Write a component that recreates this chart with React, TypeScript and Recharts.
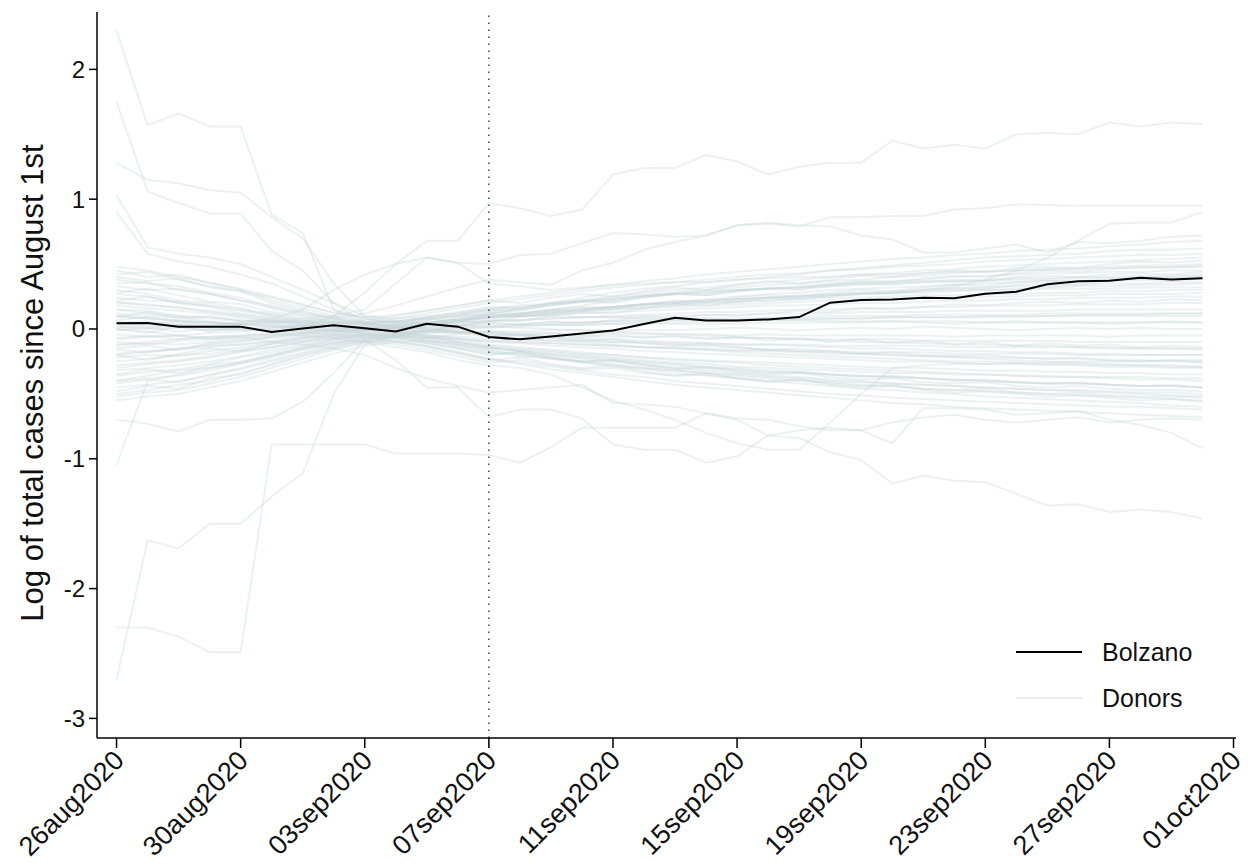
import { LineChart, Line, XAxis, YAxis, ReferenceLine } from "recharts";

const FONT = "'Liberation Sans', Arial, Helvetica, sans-serif";

// one entry per day, 26aug2020 .. 30sep2020
const dates = [
  "26aug2020", "27aug2020", "28aug2020", "29aug2020", "30aug2020", "31aug2020",
  "01sep2020", "02sep2020", "03sep2020", "04sep2020", "05sep2020", "06sep2020",
  "07sep2020", "08sep2020", "09sep2020", "10sep2020", "11sep2020", "12sep2020",
  "13sep2020", "14sep2020", "15sep2020", "16sep2020", "17sep2020", "18sep2020",
  "19sep2020", "20sep2020", "21sep2020", "22sep2020", "23sep2020", "24sep2020",
  "25sep2020", "26sep2020", "27sep2020", "28sep2020", "29sep2020", "30sep2020",
];

const xTickDays = [0, 4, 8, 12, 16, 20, 24, 28, 32, 36];
const xTickLabels = [
  "26aug2020", "30aug2020", "03sep2020", "07sep2020", "11sep2020",
  "15sep2020", "19sep2020", "23sep2020", "27sep2020", "01oct2020",
];
const yTicks = [-3, -2, -1, 0, 1, 2];
const treatmentDay = 12; // 07sep2020

const bolzano = [
  0.044, 0.046, 0.018, 0.018, 0.018, -0.023, 0.003, 0.028, 0.005, -0.02, 0.04, 0.018,
  -0.062, -0.08, -0.057, -0.034, -0.011, 0.038, 0.087, 0.066, 0.066, 0.074, 0.092, 0.203,
  0.223, 0.228, 0.241, 0.236, 0.272, 0.287, 0.344, 0.367, 0.372, 0.395, 0.382, 0.39,
];

// donors that stand out of the cloud
const donorsHigh: number[][] = [
  [2.30, 1.57, 1.66, 1.56, 1.56, 0.88, 0.74, 0.15, 0.04, 0.06, 0.08, 0.07, 0.10, 0.12, 0.14, 0.15, 0.17, 0.19, 0.20, 0.22, 0.23, 0.24, 0.26, 0.27, 0.28, 0.29, 0.30, 0.31, 0.32, 0.33, 0.33, 0.34, 0.35, 0.35, 0.36, 0.36],
  [1.75, 1.06, 0.97, 0.89, 0.89, 0.60, 0.45, 0.20, 0.05, 0.02, 0.01, -0.02, -0.05, -0.07, -0.09, -0.10, -0.12, -0.14, -0.15, -0.16, -0.18, -0.19, -0.20, -0.21, -0.22, -0.23, -0.24, -0.25, -0.25, -0.26, -0.27, -0.27, -0.28, -0.28, -0.29, -0.29],
  [1.28, 1.15, 1.12, 1.07, 1.05, 0.86, 0.70, 0.35, 0.10, 0.08, 0.10, 0.12, 0.16, 0.18, 0.20, 0.22, 0.24, 0.26, 0.28, 0.29, 0.30, 0.31, 0.32, 0.33, 0.34, 0.35, 0.36, 0.36, 0.37, 0.38, 0.38, 0.39, 0.39, 0.40, 0.40, 0.41],
  [1.03, 0.63, 0.58, 0.55, 0.50, 0.40, 0.30, 0.20, 0.10, 0.06, 0.04, 0.03, 0.02, 0.01, 0.00, -0.01, -0.02, -0.03, -0.04, -0.05, -0.06, -0.07, -0.08, -0.09, -0.10, -0.10, -0.11, -0.12, -0.12, -0.13, -0.13, -0.14, -0.14, -0.15, -0.15, -0.16],
  [0.90, 0.58, 0.52, 0.48, 0.42, 0.35, 0.25, 0.15, 0.08, 0.05, 0.05, 0.07, 0.09, 0.10, 0.12, 0.13, 0.15, 0.16, 0.17, 0.18, 0.19, 0.20, 0.21, 0.22, 0.22, 0.23, 0.24, 0.24, 0.25, 0.25, 0.26, 0.26, 0.27, 0.27, 0.27, 0.28],
  [0.10, 0.08, 0.06, 0.05, 0.03, 0.02, 0.01, 0.10, 0.28, 0.50, 0.68, 0.68, 0.97, 0.93, 0.87, 0.92, 1.19, 1.24, 1.24, 1.34, 1.29, 1.19, 1.25, 1.28, 1.28, 1.45, 1.39, 1.42, 1.39, 1.50, 1.51, 1.50, 1.59, 1.56, 1.59, 1.58],
  [0.05, 0.04, 0.06, 0.03, 0.05, 0.08, 0.15, 0.30, 0.42, 0.50, 0.55, 0.51, 0.50, 0.57, 0.58, 0.66, 0.74, 0.73, 0.71, 0.72, 0.80, 0.81, 0.79, 0.86, 0.86, 0.87, 0.87, 0.92, 0.93, 0.96, 0.955, 0.95, 0.95, 0.95, 0.95, 0.95],
  [0.02, 0.01, 0.03, 0.02, 0.04, 0.06, 0.08, 0.10, 0.15, 0.35, 0.55, 0.51, 0.35, 0.33, 0.30, 0.32, 0.34, 0.35, 0.36, 0.36, 0.38, 0.39, 0.40, 0.40, 0.42, 0.42, 0.43, 0.44, 0.44, 0.45, 0.46, 0.46, 0.47, 0.47, 0.48, 0.48],
  [-0.20, -0.18, -0.15, -0.12, -0.10, -0.06, -0.03, -0.01, 0.00, 0.02, 0.04, 0.06, 0.08, 0.10, 0.12, 0.14, 0.15, 0.17, 0.18, 0.20, 0.21, 0.22, 0.24, 0.25, 0.27, 0.28, 0.30, 0.33, 0.38, 0.45, 0.55, 0.68, 0.81, 0.82, 0.82, 0.90],
  [0.15, 0.12, 0.10, 0.08, 0.06, 0.05, 0.06, 0.08, 0.12, 0.18, 0.25, 0.32, 0.38, 0.36, 0.34, 0.45, 0.51, 0.61, 0.67, 0.72, 0.80, 0.82, 0.80, 0.79, 0.72, 0.69, 0.59, 0.59, 0.62, 0.65, 0.59, 0.67, 0.66, 0.68, 0.71, 0.72],
];

const donorsLow: number[][] = [
  [-2.70, -1.63, -1.69, -1.50, -1.50, -1.29, -1.11, -0.50, -0.12, -0.05, -0.03, -0.02, -0.04, -0.05, -0.07, -0.08, -0.10, -0.11, -0.12, -0.13, -0.14, -0.16, -0.17, -0.18, -0.19, -0.20, -0.21, -0.22, -0.23, -0.24, -0.25, -0.26, -0.27, -0.28, -0.28, -0.29],
  [-2.30, -2.30, -2.37, -2.49, -2.49, -0.89, -0.89, -0.89, -0.89, -0.96, -0.96, -0.96, -0.97, -1.03, -0.91, -0.76, -0.76, -0.76, -0.76, -0.65, -0.70, -0.82, -0.84, -0.95, -1.01, -1.19, -1.13, -1.17, -1.18, -1.27, -1.36, -1.35, -1.41, -1.39, -1.41, -1.46],
  [-1.05, -0.40, -0.35, -0.30, -0.26, -0.20, -0.14, -0.08, -0.04, -0.02, -0.01, 0.00, 0.01, 0.02, 0.03, 0.03, 0.04, 0.05, 0.05, 0.06, 0.06, 0.07, 0.07, 0.08, 0.08, 0.09, 0.09, 0.09, 0.10, 0.10, 0.10, 0.11, 0.11, 0.11, 0.12, 0.12],
  [-0.70, -0.73, -0.79, -0.70, -0.70, -0.69, -0.56, -0.34, -0.08, -0.04, -0.06, -0.10, -0.14, -0.17, -0.20, -0.22, -0.24, -0.26, -0.28, -0.30, -0.31, -0.33, -0.34, -0.35, -0.36, -0.37, -0.38, -0.39, -0.40, -0.41, -0.42, -0.42, -0.43, -0.44, -0.44, -0.45],
  [-0.40, -0.36, -0.32, -0.30, -0.26, -0.21, -0.15, -0.10, -0.08, -0.24, -0.45, -0.45, -0.68, -0.62, -0.62, -0.69, -0.89, -0.93, -0.93, -1.03, -0.98, -0.82, -0.78, -0.76, -0.78, -0.88, -0.61, -0.61, -0.62, -0.66, -0.65, -0.63, -0.70, -0.74, -0.80, -0.92],
  [0.00, -0.02, -0.05, -0.08, -0.06, -0.10, -0.12, -0.15, -0.20, -0.30, -0.38, -0.44, -0.49, -0.47, -0.45, -0.43, -0.57, -0.58, -0.60, -0.65, -0.69, -0.70, -0.75, -0.78, -0.78, -0.72, -0.68, -0.66, -0.70, -0.72, -0.70, -0.68, -0.72, -0.70, -0.69, -0.70],
  [-0.12, -0.10, -0.08, -0.06, -0.05, -0.04, -0.05, -0.07, -0.10, -0.14, -0.18, -0.24, -0.28, -0.30, -0.35, -0.45, -0.55, -0.62, -0.70, -0.80, -0.88, -0.93, -0.93, -0.72, -0.50, -0.30, -0.28, -0.27, -0.27, -0.26, -0.26, -0.25, -0.25, -0.25, -0.24, -0.24],
];

// the dense cloud around zero
const donorsBand: number[][] = [
  [0.48, 0.45, 0.40, 0.36, 0.30, 0.22, 0.16, 0.10, 0.06, 0.05, 0.08, 0.10, 0.14, 0.16, 0.20, 0.24, 0.28, 0.31, 0.33, 0.36, 0.38, 0.40, 0.42, 0.45, 0.47, 0.49, 0.51, 0.53, 0.55, 0.56, 0.57, 0.58, 0.60, 0.61, 0.61, 0.62],
  [0.42, 0.44, 0.38, 0.33, 0.29, 0.24, 0.18, 0.13, 0.08, 0.04, 0.02, 0.05, 0.09, 0.12, 0.15, 0.18, 0.22, 0.25, 0.27, 0.28, 0.30, 0.31, 0.33, 0.35, 0.36, 0.37, 0.38, 0.40, 0.41, 0.42, 0.43, 0.43, 0.44, 0.44, 0.45, 0.45],
  [0.38, 0.35, 0.33, 0.28, 0.24, 0.17, 0.12, 0.09, 0.05, 0.02, 0.00, -0.02, -0.03, -0.05, -0.06, -0.07, -0.08, -0.09, -0.10, -0.11, -0.12, -0.12, -0.13, -0.14, -0.15, -0.15, -0.16, -0.17, -0.17, -0.18, -0.18, -0.19, -0.19, -0.20, -0.20, -0.20],
  [0.33, 0.30, 0.31, 0.27, 0.22, 0.18, 0.13, 0.08, 0.04, 0.03, 0.05, 0.07, 0.10, 0.11, 0.13, 0.14, 0.16, 0.18, 0.19, 0.20, 0.21, 0.22, 0.23, 0.24, 0.24, 0.25, 0.26, 0.26, 0.27, 0.27, 0.28, 0.28, 0.29, 0.29, 0.30, 0.30],
  [0.30, 0.27, 0.22, 0.20, 0.16, 0.10, 0.06, 0.04, 0.01, 0.00, 0.03, 0.06, 0.12, 0.15, 0.19, 0.22, 0.25, 0.28, 0.30, 0.32, 0.34, 0.36, 0.38, 0.40, 0.42, 0.43, 0.45, 0.46, 0.48, 0.49, 0.50, 0.51, 0.52, 0.53, 0.54, 0.55],
  [0.27, 0.25, 0.20, 0.17, 0.12, 0.09, 0.05, 0.02, 0.00, -0.02, -0.04, -0.08, -0.12, -0.14, -0.16, -0.18, -0.20, -0.22, -0.24, -0.25, -0.26, -0.28, -0.29, -0.30, -0.31, -0.32, -0.33, -0.34, -0.35, -0.36, -0.37, -0.37, -0.38, -0.39, -0.39, -0.40],
  [0.24, 0.22, 0.21, 0.18, 0.15, 0.12, 0.08, 0.06, 0.03, 0.02, 0.04, 0.05, 0.06, 0.07, 0.08, 0.09, 0.09, 0.10, 0.10, 0.11, 0.11, 0.12, 0.12, 0.12, 0.13, 0.13, 0.13, 0.14, 0.14, 0.14, 0.14, 0.15, 0.15, 0.15, 0.15, 0.15],
  [0.21, 0.18, 0.17, 0.13, 0.10, 0.07, 0.04, 0.02, -0.01, 0.01, 0.04, 0.08, 0.12, 0.15, 0.18, 0.21, 0.23, 0.26, 0.28, 0.30, 0.32, 0.34, 0.35, 0.37, 0.38, 0.40, 0.41, 0.43, 0.44, 0.45, 0.46, 0.47, 0.48, 0.49, 0.49, 0.50],
  [0.18, 0.16, 0.14, 0.12, 0.09, 0.06, 0.03, 0.01, 0.00, -0.01, -0.02, -0.03, -0.04, -0.04, -0.05, -0.05, -0.06, -0.06, -0.06, -0.07, -0.07, -0.07, -0.08, -0.08, -0.08, -0.08, -0.09, -0.09, -0.09, -0.09, -0.09, -0.10, -0.10, -0.10, -0.10, -0.10],
  [0.15, 0.14, 0.10, 0.09, 0.07, 0.05, 0.03, 0.02, 0.01, 0.02, 0.05, 0.08, 0.11, 0.12, 0.14, 0.16, 0.17, 0.19, 0.20, 0.21, 0.23, 0.24, 0.25, 0.26, 0.27, 0.28, 0.29, 0.30, 0.30, 0.31, 0.32, 0.33, 0.33, 0.34, 0.34, 0.35],
  [0.12, 0.10, 0.09, 0.06, 0.04, 0.02, 0.00, -0.01, -0.03, -0.05, -0.08, -0.12, -0.16, -0.19, -0.22, -0.25, -0.27, -0.30, -0.32, -0.34, -0.36, -0.38, -0.40, -0.41, -0.43, -0.44, -0.46, -0.47, -0.48, -0.49, -0.50, -0.51, -0.52, -0.53, -0.54, -0.55],
  [0.10, 0.08, 0.07, 0.05, 0.04, 0.03, 0.01, 0.00, -0.01, 0.00, 0.01, 0.02, 0.02, 0.03, 0.03, 0.03, 0.04, 0.04, 0.04, 0.04, 0.04, 0.05, 0.05, 0.05, 0.05, 0.06, 0.05, 0.04, 0.05, 0.06, 0.05, 0.05, 0.04, 0.05, 0.06, 0.05],
  [0.07, 0.09, 0.06, 0.05, 0.03, 0.04, 0.02, 0.03, 0.01, 0.03, 0.05, 0.07, 0.09, 0.10, 0.11, 0.12, 0.13, 0.14, 0.15, 0.16, 0.17, 0.18, 0.18, 0.19, 0.20, 0.20, 0.21, 0.22, 0.22, 0.23, 0.23, 0.24, 0.24, 0.24, 0.25, 0.25],
  [0.04, 0.02, 0.03, 0.01, 0.00, -0.01, -0.02, -0.01, -0.03, -0.04, -0.06, -0.08, -0.10, -0.11, -0.13, -0.14, -0.15, -0.17, -0.18, -0.19, -0.20, -0.21, -0.22, -0.23, -0.24, -0.25, -0.25, -0.26, -0.27, -0.27, -0.28, -0.28, -0.29, -0.29, -0.30, -0.30],
  [0.02, 0.00, 0.01, -0.01, 0.00, 0.02, 0.03, 0.05, 0.04, 0.06, 0.09, 0.12, 0.15, 0.17, 0.19, 0.21, 0.23, 0.25, 0.27, 0.28, 0.30, 0.31, 0.32, 0.34, 0.35, 0.36, 0.37, 0.37, 0.38, 0.39, 0.39, 0.40, 0.40, 0.41, 0.41, 0.42],
  [-0.01, 0.01, -0.02, 0.00, -0.01, 0.01, 0.02, 0.00, 0.01, -0.01, -0.02, -0.03, -0.02, -0.03, -0.03, -0.04, -0.03, -0.04, -0.04, -0.04, -0.05, -0.04, -0.05, -0.05, -0.05, -0.05, -0.05, -0.06, -0.05, -0.05, -0.05, -0.05, -0.06, -0.05, -0.05, -0.05],
  [-0.04, -0.06, -0.05, -0.07, -0.06, -0.04, -0.03, -0.04, -0.05, -0.06, -0.09, -0.12, -0.15, -0.17, -0.19, -0.21, -0.23, -0.25, -0.27, -0.29, -0.30, -0.32, -0.33, -0.35, -0.36, -0.37, -0.38, -0.39, -0.40, -0.41, -0.42, -0.42, -0.43, -0.44, -0.44, -0.45],
  [-0.07, -0.05, -0.08, -0.06, -0.05, -0.03, -0.02, 0.00, -0.01, 0.01, 0.03, 0.05, 0.06, 0.07, 0.08, 0.09, 0.10, 0.11, 0.12, 0.13, 0.13, 0.14, 0.15, 0.15, 0.16, 0.16, 0.17, 0.17, 0.18, 0.18, 0.18, 0.19, 0.19, 0.19, 0.20, 0.20],
  [-0.10, -0.12, -0.09, -0.08, -0.07, -0.05, -0.03, -0.02, -0.01, -0.03, -0.05, -0.07, -0.09, -0.10, -0.11, -0.12, -0.13, -0.14, -0.15, -0.16, -0.17, -0.17, -0.18, -0.19, -0.19, -0.20, -0.21, -0.21, -0.22, -0.22, -0.23, -0.23, -0.24, -0.24, -0.25, -0.25],
  [-0.13, -0.11, -0.12, -0.10, -0.08, -0.06, -0.04, -0.02, 0.00, 0.01, 0.02, 0.03, 0.04, 0.04, 0.05, 0.05, 0.06, 0.06, 0.07, 0.07, 0.07, 0.08, 0.08, 0.08, 0.08, 0.09, 0.09, 0.09, 0.09, 0.09, 0.10, 0.10, 0.10, 0.10, 0.10, 0.10],
  [-0.16, -0.18, -0.15, -0.13, -0.12, -0.10, -0.07, -0.05, -0.04, -0.06, -0.09, -0.13, -0.17, -0.20, -0.23, -0.26, -0.29, -0.31, -0.34, -0.36, -0.38, -0.40, -0.42, -0.44, -0.46, -0.47, -0.49, -0.50, -0.52, -0.53, -0.54, -0.55, -0.56, -0.57, -0.59, -0.60],
  [-0.19, -0.17, -0.16, -0.14, -0.12, -0.09, -0.06, -0.04, -0.02, -0.03, -0.05, -0.06, -0.07, -0.08, -0.09, -0.09, -0.10, -0.10, -0.11, -0.11, -0.12, -0.12, -0.12, -0.13, -0.13, -0.13, -0.13, -0.14, -0.14, -0.14, -0.14, -0.14, -0.15, -0.15, -0.15, -0.15],
  [-0.22, -0.20, -0.21, -0.17, -0.14, -0.11, -0.07, -0.04, -0.02, 0.00, 0.03, 0.06, 0.09, 0.11, 0.13, 0.15, 0.17, 0.19, 0.20, 0.22, 0.23, 0.24, 0.25, 0.26, 0.27, 0.28, 0.28, 0.29, 0.30, 0.30, 0.31, 0.31, 0.31, 0.32, 0.32, 0.32],
  [-0.25, -0.23, -0.20, -0.19, -0.16, -0.12, -0.09, -0.06, -0.04, -0.05, -0.07, -0.10, -0.13, -0.15, -0.17, -0.19, -0.20, -0.22, -0.23, -0.24, -0.25, -0.26, -0.27, -0.28, -0.29, -0.30, -0.30, -0.31, -0.32, -0.32, -0.33, -0.33, -0.34, -0.34, -0.35, -0.35],
  [-0.28, -0.26, -0.24, -0.21, -0.17, -0.14, -0.10, -0.07, -0.05, -0.03, -0.02, -0.02, -0.02, -0.02, -0.01, -0.01, -0.01, -0.01, -0.01, 0.00, 0.01, 0.00, -0.01, 0.00, 0.01, 0.00, 0.02, 0.01, 0.00, -0.01, 0.00, 0.01, 0.00, 0.01, 0.00, 0.00],
  [-0.32, -0.30, -0.28, -0.25, -0.21, -0.16, -0.12, -0.08, -0.06, -0.07, -0.10, -0.14, -0.18, -0.21, -0.23, -0.25, -0.28, -0.30, -0.32, -0.34, -0.35, -0.37, -0.38, -0.40, -0.41, -0.42, -0.43, -0.44, -0.45, -0.46, -0.47, -0.47, -0.48, -0.49, -0.49, -0.50],
  [-0.36, -0.33, -0.31, -0.27, -0.22, -0.18, -0.13, -0.09, -0.06, -0.04, -0.02, 0.00, 0.02, 0.03, 0.04, 0.05, 0.06, 0.07, 0.07, 0.08, 0.08, 0.09, 0.09, 0.10, 0.10, 0.10, 0.11, 0.11, 0.11, 0.11, 0.12, 0.12, 0.12, 0.12, 0.12, 0.12],
  [-0.40, -0.38, -0.36, -0.32, -0.27, -0.22, -0.16, -0.11, -0.08, -0.06, -0.07, -0.08, -0.09, -0.10, -0.11, -0.12, -0.13, -0.14, -0.14, -0.15, -0.16, -0.16, -0.17, -0.17, -0.18, -0.18, -0.18, -0.19, -0.19, -0.19, -0.19, -0.20, -0.20, -0.20, -0.20, -0.20],
  [-0.45, -0.43, -0.40, -0.36, -0.31, -0.25, -0.19, -0.13, -0.09, -0.10, -0.13, -0.18, -0.23, -0.26, -0.29, -0.32, -0.35, -0.37, -0.40, -0.42, -0.44, -0.46, -0.48, -0.50, -0.51, -0.53, -0.54, -0.55, -0.56, -0.57, -0.58, -0.59, -0.60, -0.60, -0.61, -0.62],
  [-0.50, -0.47, -0.43, -0.40, -0.34, -0.28, -0.21, -0.15, -0.10, -0.06, -0.02, 0.02, 0.06, 0.09, 0.12, 0.15, 0.17, 0.19, 0.21, 0.23, 0.25, 0.27, 0.28, 0.30, 0.31, 0.32, 0.33, 0.34, 0.35, 0.36, 0.37, 0.37, 0.38, 0.39, 0.39, 0.40],
  [-0.55, -0.52, -0.50, -0.45, -0.40, -0.33, -0.26, -0.19, -0.13, -0.10, -0.09, -0.11, -0.14, -0.16, -0.18, -0.20, -0.22, -0.24, -0.26, -0.27, -0.29, -0.30, -0.31, -0.32, -0.33, -0.34, -0.34, -0.35, -0.35, -0.36, -0.36, -0.37, -0.37, -0.37, -0.38, -0.38],
  [0.35, 0.36, 0.30, 0.27, 0.22, 0.16, 0.11, 0.07, 0.05, 0.06, 0.08, 0.10, 0.11, 0.10, 0.10, 0.09, 0.09, 0.08, 0.08, 0.08, 0.07, 0.07, 0.07, 0.06, 0.06, 0.06, 0.06, 0.06, 0.05, 0.05, 0.05, 0.05, 0.05, 0.05, 0.05, 0.05],
  [0.05, 0.06, 0.04, 0.03, 0.04, 0.05, 0.06, 0.05, 0.07, 0.10, 0.14, 0.18, 0.22, 0.25, 0.28, 0.31, 0.34, 0.37, 0.39, 0.42, 0.44, 0.46, 0.48, 0.50, 0.52, 0.54, 0.55, 0.57, 0.58, 0.60, 0.61, 0.62, 0.64, 0.65, 0.67, 0.68],
  [-0.30, -0.27, -0.25, -0.22, -0.18, -0.14, -0.10, -0.07, -0.06, -0.09, -0.13, -0.18, -0.23, -0.27, -0.31, -0.34, -0.37, -0.40, -0.43, -0.45, -0.47, -0.49, -0.51, -0.53, -0.55, -0.57, -0.58, -0.60, -0.61, -0.62, -0.63, -0.64, -0.65, -0.66, -0.67, -0.68],
  [0.20, 0.19, 0.16, 0.14, 0.11, 0.08, 0.05, 0.03, 0.01, -0.02, -0.06, -0.10, -0.14, -0.17, -0.20, -0.23, -0.25, -0.28, -0.30, -0.32, -0.34, -0.36, -0.37, -0.39, -0.40, -0.42, -0.43, -0.44, -0.45, -0.46, -0.47, -0.48, -0.49, -0.50, -0.51, -0.52],
  [-0.08, -0.06, -0.05, -0.03, -0.02, 0.00, 0.02, 0.04, 0.05, 0.08, 0.12, 0.16, 0.20, 0.23, 0.26, 0.29, 0.32, 0.34, 0.36, 0.38, 0.40, 0.42, 0.43, 0.45, 0.46, 0.48, 0.49, 0.50, 0.52, 0.53, 0.54, 0.55, 0.56, 0.57, 0.57, 0.58],
  [0.45, 0.40, 0.42, 0.35, 0.31, 0.25, 0.19, 0.12, 0.09, 0.11, 0.14, 0.18, 0.22, 0.20, 0.24, 0.27, 0.25, 0.29, 0.32, 0.30, 0.34, 0.37, 0.35, 0.38, 0.41, 0.40, 0.43, 0.45, 0.44, 0.47, 0.48, 0.47, 0.50, 0.52, 0.51, 0.53],
  [0.28, 0.31, 0.26, 0.21, 0.19, 0.13, 0.10, 0.05, 0.03, 0.01, -0.01, 0.02, 0.05, 0.03, 0.06, 0.04, 0.07, 0.09, 0.08, 0.11, 0.10, 0.12, 0.14, 0.13, 0.16, 0.15, 0.17, 0.19, 0.18, 0.20, 0.21, 0.20, 0.22, 0.21, 0.23, 0.22],
  [-0.20, -0.24, -0.19, -0.15, -0.17, -0.11, -0.08, -0.05, -0.07, -0.10, -0.14, -0.19, -0.24, -0.22, -0.27, -0.30, -0.28, -0.33, -0.36, -0.34, -0.38, -0.41, -0.39, -0.43, -0.45, -0.44, -0.47, -0.49, -0.48, -0.50, -0.52, -0.51, -0.53, -0.55, -0.54, -0.56],
  [-0.48, -0.44, -0.46, -0.38, -0.35, -0.27, -0.20, -0.14, -0.09, -0.05, -0.07, -0.04, -0.02, -0.05, -0.03, -0.06, -0.04, -0.07, -0.05, -0.08, -0.06, -0.09, -0.07, -0.10, -0.08, -0.11, -0.09, -0.12, -0.10, -0.13, -0.11, -0.13, -0.12, -0.14, -0.13, -0.14],
  [0.09, 0.13, 0.08, 0.10, 0.06, 0.07, 0.04, 0.06, 0.03, 0.05, 0.09, 0.13, 0.17, 0.16, 0.20, 0.22, 0.21, 0.25, 0.27, 0.26, 0.29, 0.31, 0.30, 0.33, 0.35, 0.34, 0.36, 0.38, 0.37, 0.40, 0.41, 0.40, 0.42, 0.43, 0.42, 0.44],
  [-0.35, -0.31, -0.34, -0.28, -0.25, -0.20, -0.15, -0.11, -0.07, -0.04, -0.01, 0.03, 0.07, 0.06, 0.10, 0.13, 0.12, 0.16, 0.19, 0.18, 0.21, 0.24, 0.23, 0.26, 0.28, 0.27, 0.30, 0.32, 0.31, 0.34, 0.35, 0.34, 0.37, 0.38, 0.37, 0.39],
  [0.00, -0.03, 0.02, -0.02, 0.01, -0.01, 0.00, -0.02, -0.04, -0.07, -0.11, -0.15, -0.19, -0.18, -0.22, -0.25, -0.24, -0.28, -0.31, -0.30, -0.33, -0.35, -0.34, -0.37, -0.39, -0.38, -0.41, -0.42, -0.41, -0.44, -0.45, -0.44, -0.46, -0.47, -0.47, -0.48],
  [0.40, 0.37, 0.39, 0.32, 0.29, 0.20, 0.14, 0.08, 0.04, 0.02, 0.00, -0.03, -0.06, -0.04, -0.07, -0.09, -0.08, -0.11, -0.13, -0.12, -0.14, -0.16, -0.15, -0.17, -0.19, -0.18, -0.20, -0.21, -0.20, -0.22, -0.23, -0.22, -0.24, -0.25, -0.24, -0.26],
  [-0.15, -0.13, -0.16, -0.11, -0.09, -0.07, -0.05, -0.03, 0.00, 0.03, 0.07, 0.11, 0.15, 0.14, 0.18, 0.21, 0.20, 0.24, 0.27, 0.26, 0.29, 0.32, 0.31, 0.34, 0.37, 0.36, 0.39, 0.41, 0.40, 0.43, 0.45, 0.44, 0.46, 0.48, 0.47, 0.49],
  [-0.42, -0.39, -0.41, -0.35, -0.30, -0.24, -0.18, -0.12, -0.09, -0.12, -0.16, -0.21, -0.26, -0.24, -0.28, -0.31, -0.30, -0.34, -0.36, -0.35, -0.38, -0.40, -0.39, -0.42, -0.44, -0.43, -0.46, -0.47, -0.46, -0.49, -0.50, -0.49, -0.51, -0.52, -0.52, -0.53],
  [0.22, 0.25, 0.20, 0.18, 0.14, 0.11, 0.07, 0.04, 0.02, 0.04, 0.07, 0.10, 0.13, 0.12, 0.15, 0.17, 0.16, 0.19, 0.22, 0.21, 0.24, 0.26, 0.25, 0.28, 0.30, 0.29, 0.32, 0.34, 0.33, 0.36, 0.37, 0.36, 0.38, 0.39, 0.38, 0.40],
  [-0.52, -0.49, -0.47, -0.42, -0.37, -0.30, -0.23, -0.16, -0.11, -0.08, -0.11, -0.15, -0.20, -0.18, -0.22, -0.25, -0.24, -0.27, -0.30, -0.29, -0.32, -0.34, -0.33, -0.35, -0.37, -0.36, -0.38, -0.40, -0.39, -0.41, -0.42, -0.41, -0.43, -0.44, -0.43, -0.45],
];

const donors = [...donorsBand, ...donorsHigh, ...donorsLow];

const legendItems = [
  { name: "Bolzano", color: "#000000" },
  { name: "Donors", color: "#e9eef0" },
];

const data = dates.map((date, i) => {
  const row: Record<string, number | string> = { day: i, date, bolzano: bolzano[i] };
  donors.forEach((d, k) => { row[`donor${k}`] = d[i]; });
  return row;
});

const XTick = (props: any) => {
  const { x, y, payload } = props;
  const label = xTickLabels[xTickDays.indexOf(payload.value)];
  const ax = x + 9;
  const ay = y + 12;
  return (
    <text x={ax} y={ay} textAnchor="end" transform={`rotate(-45 ${ax} ${ay})`}
      fontSize={27} fill="#111" fontFamily={FONT}>
      {label}
    </text>
  );
};

const YTick = (props: any) => {
  const { x, y, payload } = props;
  return (
    <text x={x} y={y} dy={8.5} textAnchor="end" fontSize={24} fill="#111" fontFamily={FONT}>
      {payload.value}
    </text>
  );
};

const YTitle = (props: any) => {
  const vb = props.viewBox || { x: 0, y: 12, width: 97, height: 726 };
  const cx = vb.x + 32;
  const cy = vb.y + vb.height / 2 + 8;
  return (
    <text x={cx} y={cy} textAnchor="middle" dominantBaseline="central"
      transform={`rotate(-90 ${cx} ${cy})`} fontSize={31} fill="#111" fontFamily={FONT}>
      Log of total cases since August 1st
    </text>
  );
};

export default function App() {
  return (
    <div style={{ position: "fixed", left: 0, top: 0, width: 1248, height: 866, background: "#fff" }}>
      <LineChart width={1248} height={866} data={data}
        margin={{ top: 12, right: 12, left: 0, bottom: 0 }}>
        <XAxis dataKey="day" type="number" domain={[-0.63, 36.08]} allowDataOverflow
          ticks={xTickDays} interval={0} tick={<XTick />} height={128}
          tickSize={10} stroke="#000" strokeWidth={1.5} />
        <YAxis type="number" domain={[-3.151, 2.442]} allowDataOverflow ticks={yTicks}
          interval={0} tick={<YTick />} width={97} tickSize={8} tickMargin={4}
          stroke="#000" strokeWidth={1.5} label={<YTitle />} />
        {donors.map((_, k) => (
          <Line key={k} dataKey={`donor${k}`} type="linear" dot={false} activeDot={false}
            stroke="#c4d3d9" strokeOpacity={0.33} strokeWidth={2}
            isAnimationActive={false} legendType="none" />
        ))}
        <ReferenceLine x={treatmentDay} stroke="#444" strokeWidth={1.5} strokeDasharray="1.5 5.5" />
        <Line dataKey="bolzano" type="linear" dot={false} activeDot={false}
          stroke="#000" strokeWidth={2} isAnimationActive={false} />
      </LineChart>
      <div style={{ position: "absolute", left: 1016, top: 629, fontFamily: FONT, fontSize: 25, color: "#111" }}>
        {legendItems.map((item) => (
          <div key={item.name} style={{ display: "flex", alignItems: "center", height: 46 }}>
            <svg width={66} height={4}>
              <line x1={0} y1={2} x2={66} y2={2} stroke={item.color} strokeWidth={2} />
            </svg>
            <span style={{ marginLeft: 20 }}>{item.name}</span>
          </div>
        ))}
      </div>
    </div>
  );
}
